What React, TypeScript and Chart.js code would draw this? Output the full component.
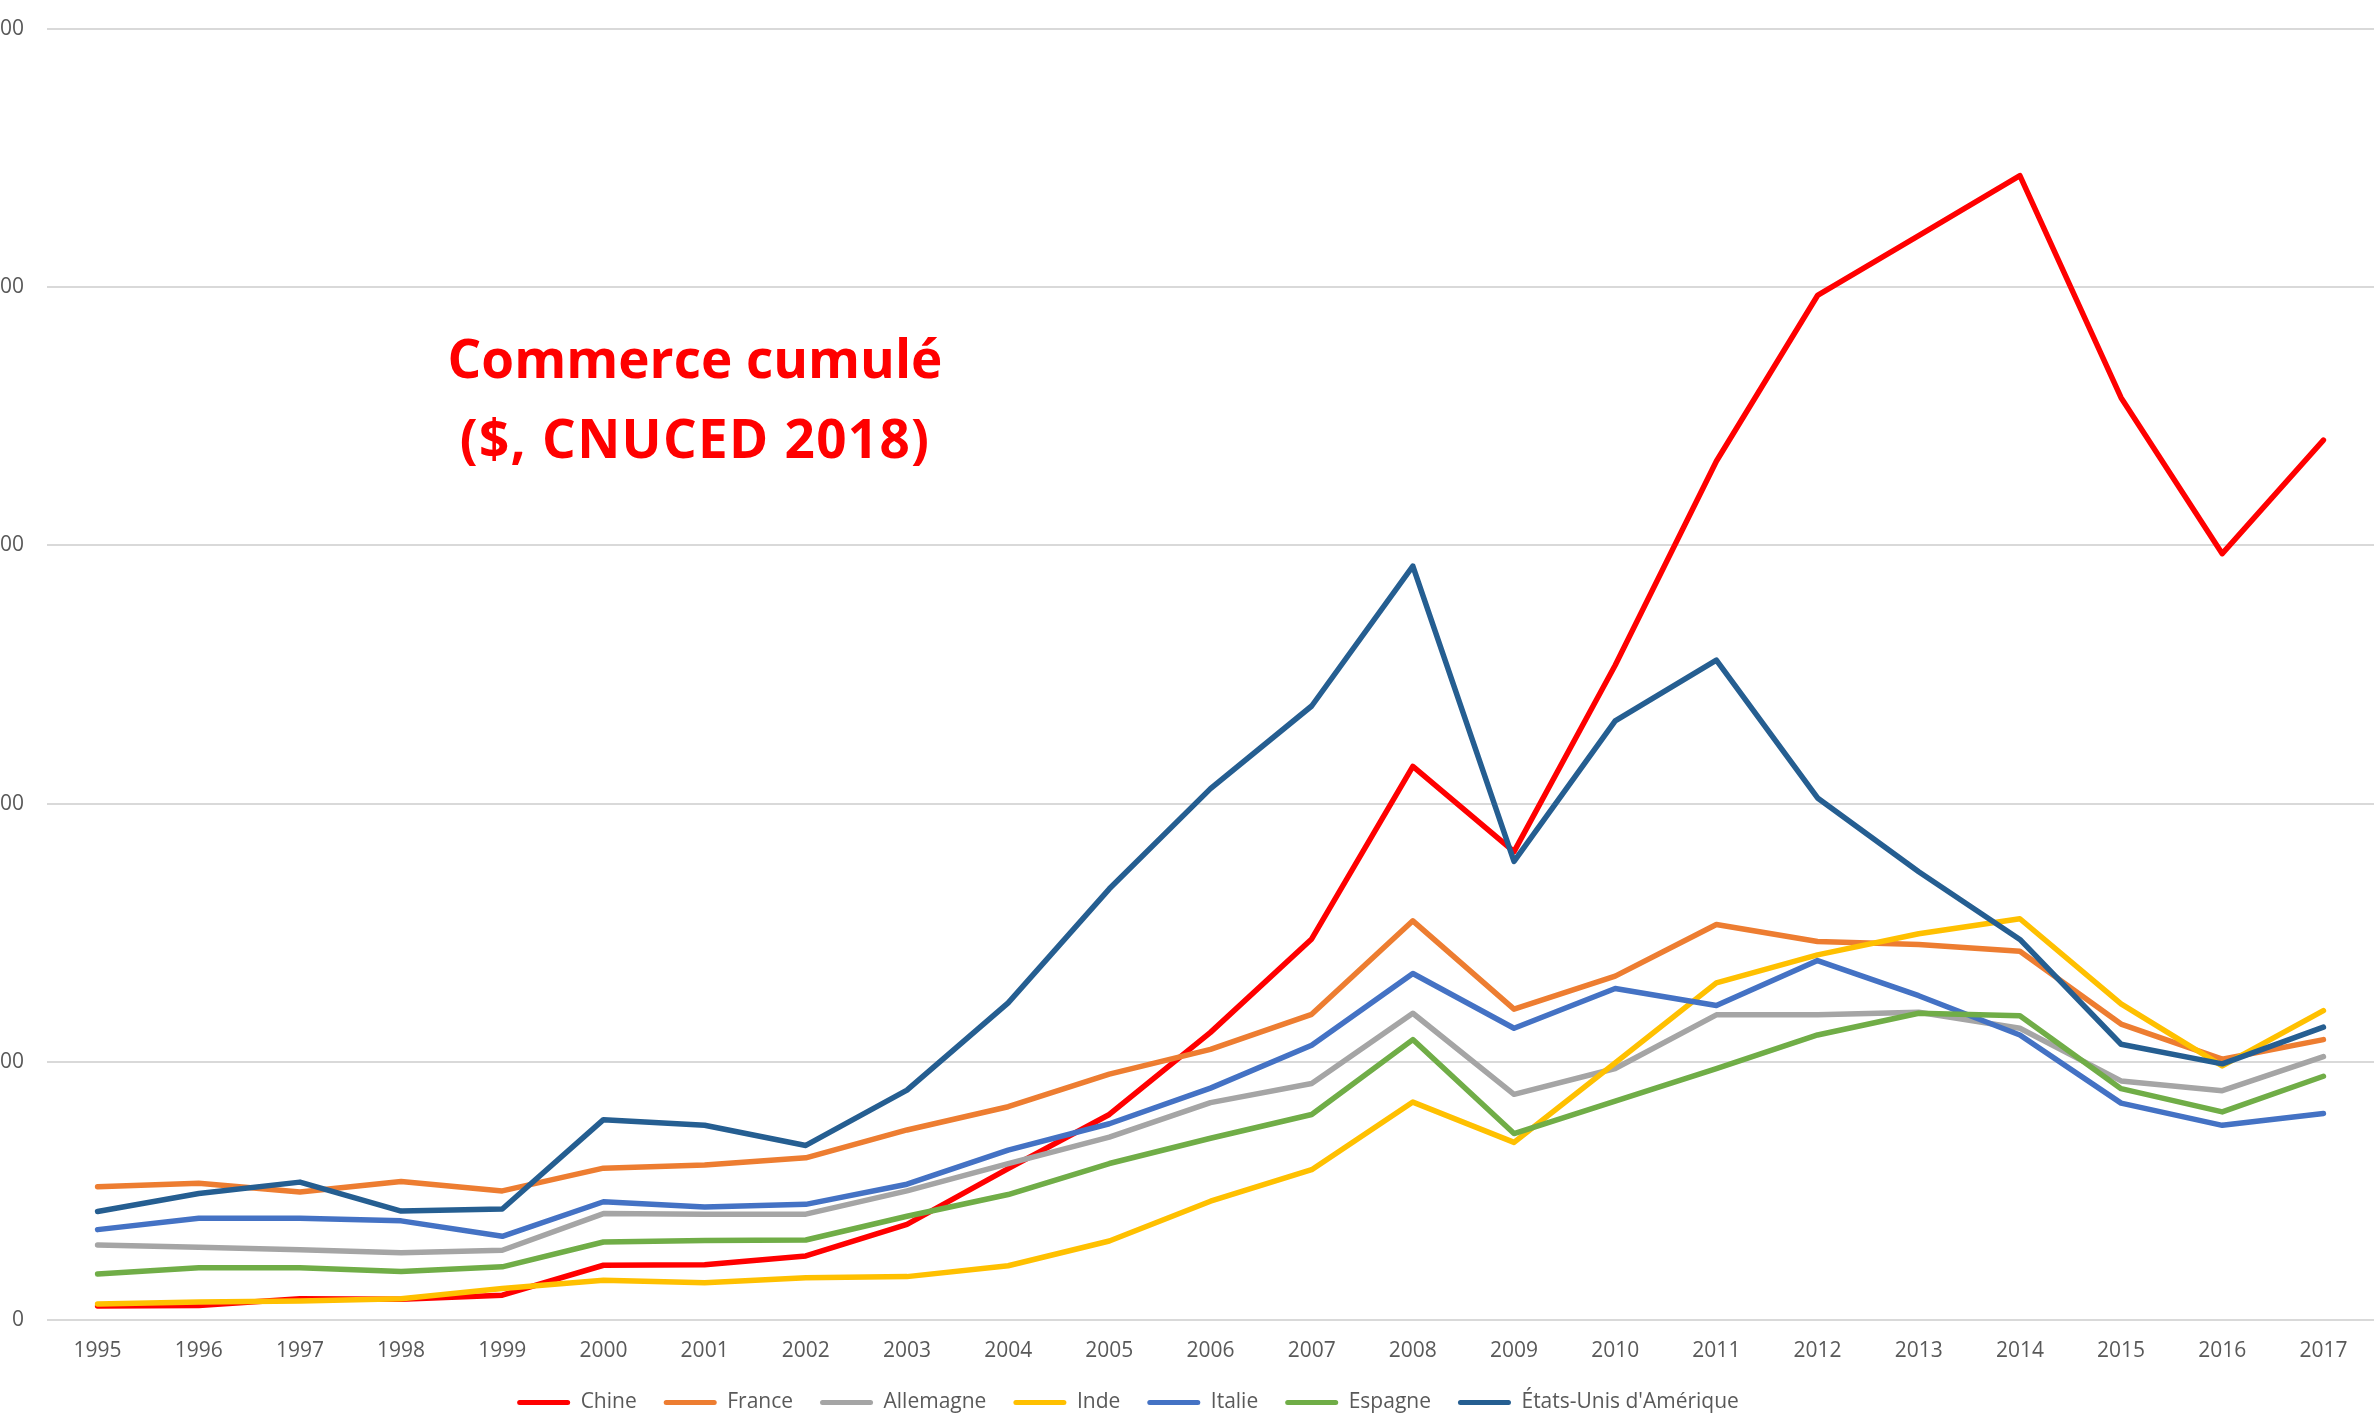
import React, { useEffect, useRef } from "react";
import { Chart, registerables } from "chart.js";

Chart.register(...registerables);

const years = ["1995","1996","1997","1998","1999","2000","2001","2002","2003","2004","2005","2006","2007","2008","2009","2010","2011","2012","2013","2014","2015","2016","2017"];

const chine = [2700, 2800, 4100, 4000, 4800, 10600, 10700, 12400, 18500, 29300, 39800, 55700, 73800, 107200, 90700, 126800, 166300, 198400, 210000, 221600, 178600, 148400, 170400];
const france = [25800, 26500, 24800, 26800, 25000, 29400, 30000, 31400, 36800, 41300, 47600, 52400, 59200, 77300, 60200, 66600, 76600, 73300, 72700, 71400, 57300, 50500, 54300];
const allemagne = [14500, 14100, 13600, 13000, 13500, 20600, 20500, 20500, 25000, 30300, 35400, 42100, 45800, 59400, 43700, 48700, 59100, 59100, 59600, 56500, 46300, 44400, 51000];
const inde = [3100, 3500, 3700, 4100, 6100, 7700, 7200, 8200, 8400, 10500, 15300, 23000, 29100, 42200, 34400, 49800, 65300, 70700, 74800, 77700, 61200, 49200, 59900];
const italie = [17500, 19700, 19700, 19200, 16200, 22900, 21900, 22400, 26300, 32900, 38000, 44900, 53200, 67100, 56500, 64200, 60900, 69600, 62800, 55200, 42000, 37700, 40000];
const espagne = [8900, 10100, 10100, 9400, 10300, 15100, 15400, 15500, 20100, 24300, 30300, 35200, 39800, 54300, 36100, 42400, 48700, 55200, 59400, 58900, 44800, 40300, 47200];
const etatsUnis = [21000, 24500, 26700, 21100, 21500, 38800, 37700, 33800, 44500, 61400, 83500, 102900, 118900, 146000, 88800, 116000, 127800, 101100, 86800, 73700, 53400, 49600, 56700];

const seriesNames = ["Chine", "France", "Allemagne", "Inde", "Italie", "Espagne", "États-Unis d'Amérique"];
const seriesColors = ["#FF0000", "#ED7D31", "#A5A5A5", "#FFC000", "#4472C4", "#70AD47", "#255E91"];
const seriesValues = [chine, france, allemagne, inde, italie, espagne, etatsUnis];

const yTicks = [0, 50000, 100000, 150000, 200000, 250000];

const titleLines = ["Commerce cumulé", "($, CNUCED 2018)"];

const OFFSET_LEFT = 118;
const FONT = "'Open Sans', sans-serif";

export default function App() {
  const canvasRef = useRef<HTMLCanvasElement | null>(null);

  useEffect(() => {
    if (!canvasRef.current) return;
    const datasets = seriesNames.map((name, i) => ({
      label: name,
      data: seriesValues[i],
      borderColor: seriesColors[i],
      backgroundColor: seriesColors[i],
      borderWidth: 5.5,
      pointRadius: 0,
      pointHoverRadius: 0,
      tension: 0,
      borderCapStyle: "round" as const,
      borderJoinStyle: "round" as const,
      order: seriesNames.length - i,
    }));

    const chart = new Chart(canvasRef.current, {
      type: "line",
      data: { labels: years, datasets },
      options: {
        animation: false,
        responsive: true,
        maintainAspectRatio: false,
        layout: { padding: { top: 29, right: 0, bottom: 0, left: 0 } },
        plugins: {
          tooltip: { enabled: false },
          legend: {
            position: "bottom",
            labels: {
              boxWidth: 53,
              boxHeight: 5,
              padding: 27,
              color: "#595959",
              font: { family: FONT, size: 21 },
              sort: (a: any, b: any) => a.datasetIndex - b.datasetIndex,
              generateLabels: (ch: any) => {
                const items = Chart.defaults.plugins.legend.labels.generateLabels(ch);
                return items.map((it: any) => ({
                  ...it,
                  fillStyle: seriesColors[it.datasetIndex],
                  lineWidth: 0,
                  borderRadius: 2.5,
                }));
              },
            },
          },
        },
        scales: {
          x: {
            type: "category",
            offset: true,
            grid: { display: false, drawTicks: false },
            border: { display: false },
            afterFit: (scale: any) => {
              scale.height = 45;
            },
            ticks: {
              color: "#595959",
              font: { family: FONT, size: 21 },
              padding: 18,
              maxRotation: 0,
              autoSkip: false,
            },
          },
          y: {
            min: yTicks[0],
            max: yTicks[yTicks.length - 1],
            afterFit: (scale: any) => {
              scale.width = 47 + OFFSET_LEFT;
              scale.paddingTop = 0;
              scale.paddingBottom = 0;
            },
            afterBuildTicks: (scale: any) => {
              scale.ticks = yTicks.map((v) => ({ value: v }));
            },
            grid: { color: "#d9d9d9", lineWidth: 2, drawTicks: false },
            border: { display: false },
            ticks: {
              color: "#595959",
              font: { family: FONT, size: 21 },
              padding: 23,
              callback: (v: any) => Number(v).toLocaleString("fr-FR").replace(/\s/g, " "),
            },
          },
        },
      },
    });
    return () => chart.destroy();
  }, []);

  return (
    <>
      <div
        style={{
          position: "fixed",
          left: -OFFSET_LEFT,
          top: 0,
          width: 2374 + OFFSET_LEFT,
          height: 1423,
          background: "#ffffff",
        }}
      >
        <canvas ref={canvasRef} />
      </div>
      <div
        style={{
          position: "fixed",
          left: 295,
          top: 318,
          width: 800,
          textAlign: "center",
          color: "#FF0000",
          fontFamily: FONT,
          fontWeight: 700,
          fontSize: 53,
          lineHeight: "80px",
          whiteSpace: "nowrap",
        }}
      >
        {titleLines[0]}
        <br />
        <span style={{ letterSpacing: "1.3px" }}>{titleLines[1]}</span>
      </div>
    </>
  );
}
